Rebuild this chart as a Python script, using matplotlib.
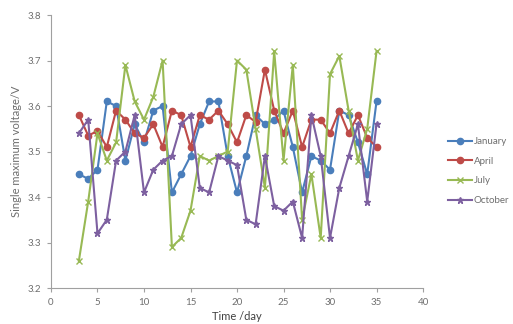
import matplotlib.pyplot as plt
import numpy as np

plt.rcParams['font.family'] = ['Lato', 'DejaVu Sans']

# Day index for every point
days = np.arange(3, 36)

# Single maximum voltage (V) per month
january = [3.45, 3.44, 3.46, 3.61, 3.60, 3.48, 3.56, 3.52, 3.59, 3.60, 3.41,
           3.45, 3.49, 3.56, 3.61, 3.61, 3.49, 3.41, 3.49, 3.58, 3.56, 3.57,
           3.59, 3.51, 3.41, 3.49, 3.48, 3.46, 3.59, 3.58, 3.52, 3.45, 3.61]
april = [3.58, 3.535, 3.545, 3.51, 3.59, 3.57, 3.54, 3.53, 3.56, 3.51, 3.59,
         3.58, 3.51, 3.58, 3.57, 3.59, 3.56, 3.52, 3.58, 3.565, 3.68, 3.59,
         3.54, 3.59, 3.51, 3.57, 3.57, 3.54, 3.59, 3.54, 3.58, 3.53, 3.51]
july = [3.26, 3.39, 3.54, 3.48, 3.52, 3.69, 3.61, 3.57, 3.62, 3.70, 3.29,
        3.31, 3.37, 3.49, 3.48, 3.49, 3.50, 3.70, 3.68, 3.55, 3.42, 3.72,
        3.48, 3.69, 3.35, 3.45, 3.31, 3.67, 3.71, 3.59, 3.48, 3.55, 3.72]
october = [3.54, 3.57, 3.32, 3.35, 3.48, 3.50, 3.58, 3.41, 3.46, 3.48, 3.49,
           3.56, 3.58, 3.42, 3.41, 3.49, 3.48, 3.47, 3.35, 3.34, 3.49, 3.38,
           3.37, 3.39, 3.31, 3.58, 3.49, 3.31, 3.42, 3.49, 3.56, 3.39, 3.56]

series = [
    ('January', january, '#4a7ebb', 'o', 4.5),
    ('April', april, '#be4b48', 'o', 4.5),
    ('July', july, '#98b954', 'x', 4.5),
    ('October', october, '#7d60a0', '*', 5.0),
]

fig = plt.figure(figsize=(5.13, 3.24), dpi=100)
ax = fig.add_axes([0.0994, 0.1111, 0.7252, 0.8426])

for name, vals, col, mk, ms in series:
    ax.plot(days, vals, color=col, linewidth=1.5, marker=mk, markersize=ms,
            markeredgewidth=1.0, label=name)

axis_grey = '#a0a0a0'
text_grey = '#6e6e6e'

ax.set_xlim(0, 40)
ax.set_ylim(3.2, 3.8)
ax.set_xticks(np.arange(0, 41, 5))
ax.set_yticks(np.arange(3.2, 3.81, 0.1))
ax.set_yticklabels(['%.1f' % v for v in np.arange(3.2, 3.81, 0.1)])
for s in ['top', 'right']:
    ax.spines[s].set_visible(False)
for s in ['left', 'bottom']:
    ax.spines[s].set_color(axis_grey)
    ax.spines[s].set_linewidth(0.8)
ax.tick_params(axis='both', direction='out', length=3, width=0.8,
               color=axis_grey, labelcolor=text_grey, labelsize=7, pad=4)

ax.set_xlabel('Time /day', fontsize=8, color='#404040', labelpad=3)
ax.set_ylabel('Single maximum voltage/V', fontsize=8, color=text_grey,
              labelpad=4)

fig.legend(loc='center left', bbox_to_anchor=(0.873, 0.472), frameon=False,
           fontsize=7, handlelength=2.5, handletextpad=0.15, labelspacing=1.1,
           borderpad=0, borderaxespad=0, labelcolor=text_grey)

fig.savefig('out.png', dpi=100)
